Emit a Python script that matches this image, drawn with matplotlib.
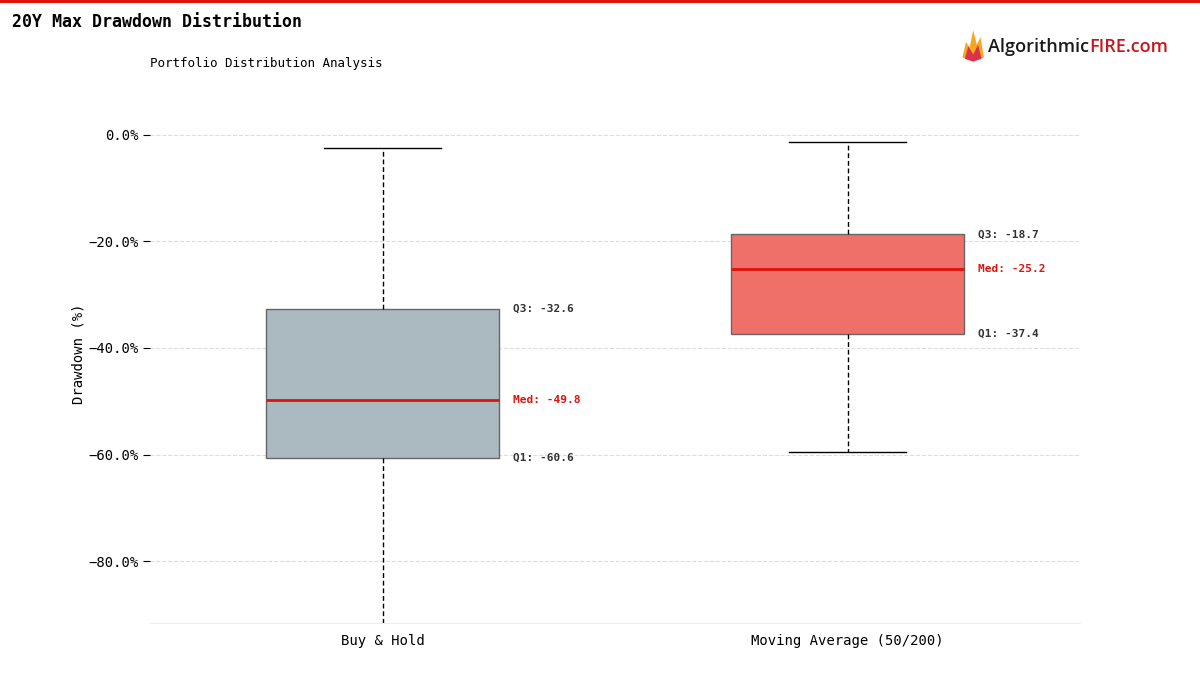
import matplotlib
matplotlib.use("Agg")
import matplotlib.pyplot as plt
from matplotlib.patches import Polygon
from matplotlib.lines import Line2D

plt.rcParams['font.family'] = ['DejaVu Sans Mono']

# box stats (drawdown in %)
strategies = ["Buy & Hold", "Moving Average (50/200)"]
q1 = [-60.6, -37.4]
median = [-49.8, -25.2]
q3 = [-32.6, -18.7]
whisker_low = [-96.0, -59.5]
whisker_high = [-2.5, -1.3]
box_colors = ["#abb9c0", "#ee7068"]

RED = "#e0120c"

fig = plt.figure(figsize=(12, 7), dpi=100)
ax = fig.add_axes([0.125, 0.11, 0.775, 0.769])

stats = []
for i in range(len(strategies)):
    stats.append({
        "label": strategies[i],
        "q1": q1[i], "med": median[i], "q3": q3[i],
        "whislo": whisker_low[i], "whishi": whisker_high[i],
        "fliers": [],
    })

bp = ax.bxp(stats, positions=range(len(strategies)), widths=0.5,
            patch_artist=True, showfliers=False,
            medianprops=dict(color=RED, linewidth=2),
            whiskerprops=dict(color="black", linestyle=(0, (3.5, 2)), linewidth=1),
            capprops=dict(color="black", linewidth=1),
            boxprops=dict(edgecolor="#666666", linewidth=1))
for patch, c in zip(bp["boxes"], box_colors):
    patch.set_facecolor(c)

for i in range(len(strategies)):
    x = i + 0.28
    ax.text(x, q3[i], f"Q3: {q3[i]:.1f}", fontsize=8, fontweight="bold",
            color="#333333", va="center")
    ax.text(x, median[i], f"Med: {median[i]:.1f}", fontsize=8, fontweight="bold",
            color=RED, va="center")
    ax.text(x, q1[i], f"Q1: {q1[i]:.1f}", fontsize=8, fontweight="bold",
            color="#333333", va="center")

ax.set_xlim(-0.5, 1.5)
ax.set_ylim(-91.6, 9.4)
ticks = [0, -20, -40, -60, -80]
ax.set_yticks(ticks)
ax.set_yticklabels([f"{v:.1f}%".replace("-", "\u2212") for v in ticks])
ax.tick_params(axis="y", labelsize=10, length=5)
ax.tick_params(axis="x", labelsize=10, length=0, pad=8)
ax.set_ylabel("Drawdown (%)", fontsize=10, labelpad=2)
ax.grid(axis="y", linestyle="--", color="#dddddd", linewidth=0.8)
ax.set_axisbelow(True)
for s in ["top", "right", "left"]:
    ax.spines[s].set_visible(False)
ax.spines["bottom"].set_color("#eeeeee")

# header
fig.add_artist(Line2D([0, 1], [0.998, 0.998], color=RED, linewidth=3,
                      transform=fig.transFigure))
fig.text(0.01, 0.968, "20Y Max Drawdown Distribution", fontsize=12,
         fontweight="bold", va="center")
fig.text(0.125, 0.91, "Portfolio Distribution Analysis", fontsize=9, va="center")

# logo
flame = [(0.802, 0.918), (0.805, 0.940), (0.808, 0.932), (0.811, 0.957),
         (0.814, 0.936), (0.817, 0.947), (0.820, 0.918), (0.811, 0.912)]
fig.add_artist(Polygon(flame, closed=True, transform=fig.transFigure,
                       facecolor="#f5a623", edgecolor="none"))
inner = [(0.804, 0.916), (0.807, 0.934), (0.811, 0.922), (0.815, 0.936),
         (0.818, 0.916), (0.811, 0.912)]
fig.add_artist(Polygon(inner, closed=True, transform=fig.transFigure,
                       facecolor="#d9324a", edgecolor="none"))
fig.text(0.9075, 0.933, "Algorithmic", fontsize=13, family="Open Sans",
         fontweight="semibold", color="#1a1a1a", ha="right", va="center")
fig.text(0.9075, 0.933, "FIRE.com", fontsize=13, family="Open Sans",
         fontweight="semibold", color="#c8161d", ha="left", va="center")

fig.savefig("out.png", dpi=100, facecolor="white")
